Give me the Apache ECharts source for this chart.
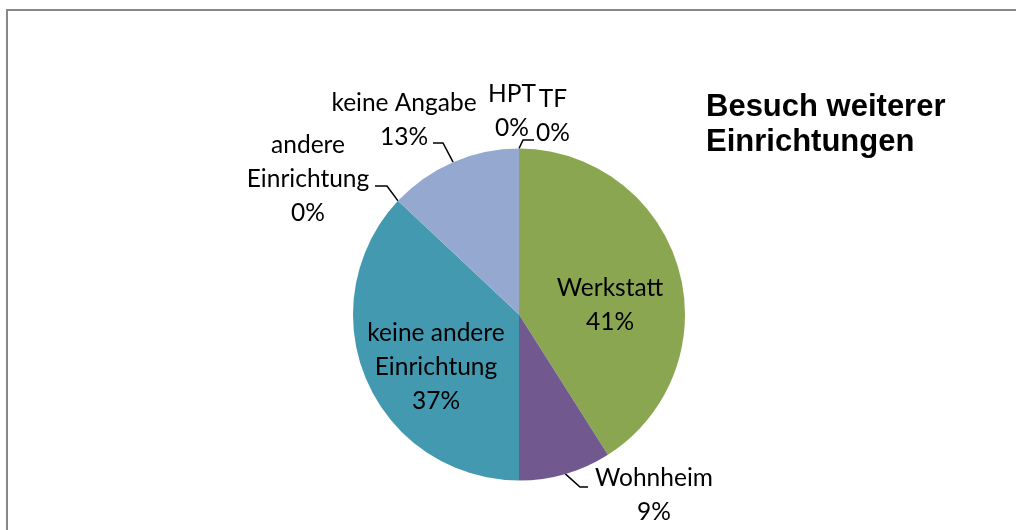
<!DOCTYPE html>
<html>
<head>
<meta charset="utf-8">
<script src="https://cdn.jsdelivr.net/npm/echarts@6/dist/echarts.min.js"></script>
<style>
html,body{margin:0;padding:0;background:#fff;overflow:hidden;width:1016px;height:530px;}
#ftop{position:absolute;left:6px;top:9px;width:1010px;height:2px;background:#888;}
#fleft{position:absolute;left:6px;top:9px;width:2px;height:521px;background:#888;}
#chart{position:absolute;left:0;top:0;width:1016px;height:530px;}
</style>
</head>
<body>
<div id="ftop"></div>
<div id="fleft"></div>
<div id="chart"></div>
<script>
// Data
var categories = ['Werkstatt', 'Wohnheim', 'keine andere Einrichtung', 'andere Einrichtung', 'keine Angabe', 'HPT', 'TF'];
var values = [41, 9, 37, 0, 13, 0, 0];
var colors = ['#8BA651', '#71598F', '#4299B0', '#4F81BD', '#95A9D0', '#C0504D', '#F79646'];
var titleText = 'Besuch weiterer\nEinrichtungen';

// Label placement (styling, not data)
var labelCenters = {
  'Werkstatt': [610, 305],
  'Wohnheim': [654, 495],
  'keine andere Einrichtung': [436, 367],
  'andere Einrichtung': [308, 179],
  'keine Angabe': [404, 120],
  'HPT': [512, 111],
  'TF': [553, 116]
};
var leaderBends = {
  'Wohnheim': [[580, 487], [588, 487]],
  'keine Angabe': [[443, 143], [433, 143]],
  'andere Einrichtung': [[387, 186], [375, 186]],
  'TF': [[523, 140], [534, 140]]
};
var CX = 519, CY = 314.5, R = 166;
var total = values.reduce(function(a, b){ return a + b; }, 0);

function edgePoint(idx) {
  var before = 0;
  for (var i = 0; i < idx; i++) before += values[i];
  var mid = (before + values[idx] / 2) / total * 2 * Math.PI;
  return [CX + R * Math.sin(mid), CY - R * Math.cos(mid)];
}

var data = categories.map(function(c, i){
  var inside = (c === 'Werkstatt' || c === 'keine andere Einrichtung');
  return {
    name: c,
    value: values[i],
    itemStyle: {color: colors[i]},
    label: {show: true, position: inside ? 'inside' : 'outside'},
    labelLine: {show: !!leaderBends[c]}
  };
});

var chart = echarts.init(document.getElementById('chart'), null, {renderer: 'canvas'});
chart.setOption({
  animation: false,
  title: {
    text: titleText,
    left: 706,
    top: 90,
    padding: 0,
    textStyle: {fontFamily: 'Liberation Sans', fontWeight: 'bold', fontSize: 31, lineHeight: 35, color: '#000'}
  },
  series: [{
    type: 'pie',
    center: [CX, CY],
    radius: R,
    startAngle: 90,
    clockwise: true,
    minAngle: 0,
    avoidLabelOverlap: false,
    stillShowZeroSum: true,
    itemStyle: {borderWidth: 0},
    label: {
      fontFamily: 'Lato',
      fontSize: 24.5,
      lineHeight: 34,
      color: '#000',
      align: 'center',
      formatter: function(p){
        return p.name.replace(' Einrichtung', '\nEinrichtung') + '\n' + p.percent.toFixed(0) + '%';
      }
    },
    labelLine: {lineStyle: {color: '#000', width: 1.5}, length: 15, length2: 10},
    labelLayout: function(params) {
      var name = categories[params.dataIndex];
      var c = labelCenters[name];
      var res = {x: c[0], y: c[1], align: 'center', verticalAlign: 'middle'};
      if (leaderBends[name]) {
        var e = edgePoint(params.dataIndex);
        res.labelLinePoints = [e, leaderBends[name][0], leaderBends[name][1]];
      }
      return res;
    },
    data: data
  }]
});
</script>
</body>
</html>
